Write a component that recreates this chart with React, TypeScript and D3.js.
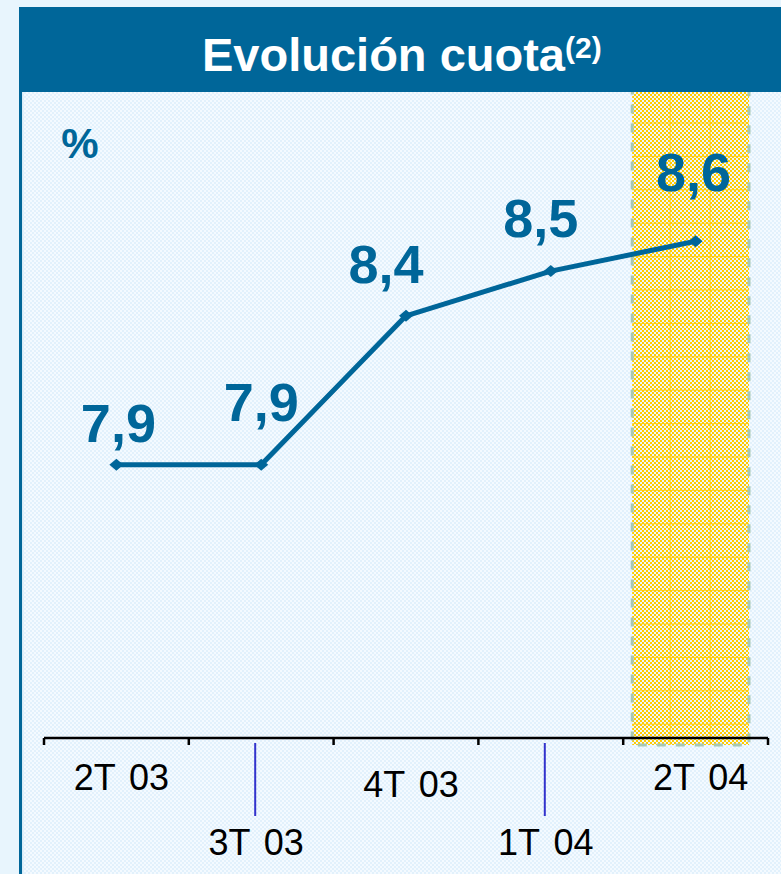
import React from "react";
import * as d3 from "d3";

const categories = ["2T 03", "3T 03", "4T 03", "1T 04", "2T 04"];
const values = [7.9, 7.9, 8.4, 8.55, 8.65];
const valueLabels = ["7,9", "7,9", "8,4", "8,5", "8,6"];
const axisLabelRow = [0, 1, 0, 1, 0];
const title = "Evolución cuota";
const titleNote = "(2)";
const unitLabel = "%";

// layout offsets for value labels (dx, dy from point)
const labelOffsets: [number, number][] = [
  [2, -23],
  [0, -44],
  [-20, -33],
  [-10, -34],
  [-2, -50],
];

const W = 781;
const H = 874;
const BLUE = "#006699";

export default function App() {
  const x = d3.scaleBand<string>().domain(categories).range([44, 768]).paddingInner(0).paddingOuter(0);
  const y = d3.scaleLinear().domain([7, 9]).range([733, 137]);
  const axisY = 738;
  const cx = (c: string) => (x(c) as number) + x.bandwidth() / 2;

  const line = d3
    .line<number>()
    .x((_, i) => cx(categories[i]))
    .y((d) => y(d));

  const boundaries = [...categories.map((c) => x(c) as number), x.range()[1]];

  const hlCat = categories[categories.length - 1];
  const hlX0 = (x(hlCat) as number) + 9;
  const hlX1 = (x(hlCat) as number) + x.bandwidth() - 19;
  const hlY0 = 90;
  const hlY1 = 745;
  const hLines = d3.range(hlY0 + 33, hlY1, 33.4);

  return (
    <svg
      width={W}
      height={H}
      style={{ position: "absolute", left: 0, top: 0 }}
      fontFamily="'Liberation Sans', Arial, sans-serif"
    >
      <defs>
        <pattern id="bgchk" width="4" height="4" patternUnits="userSpaceOnUse">
          <rect width="4" height="4" fill="#f4faff" />
          <rect width="2" height="2" fill="#e2f1fc" />
          <rect x="2" y="2" width="2" height="2" fill="#e2f1fc" />
        </pattern>
        <pattern id="ychk" width="4" height="4" patternUnits="userSpaceOnUse">
          <rect width="4" height="4" fill="#eef6fb" />
          <rect width="2" height="2" fill="#ffcc00" />
          <rect x="2" y="2" width="2" height="2" fill="#ffcc00" />
        </pattern>
      </defs>
      <rect x={0} y={0} width={W} height={H} fill="#e8f5fd" />
      <rect x={19} y={7} width={W - 19} height={H - 7} fill="url(#bgchk)" />
      <rect x={19} y={7} width={3} height={H - 7} fill={BLUE} />
      <rect x={22} y={7} width={1.5} height={H - 7} fill="#d8ecf8" />

      {/* highlight */}
      <rect x={hlX0} y={hlY0} width={hlX1 - hlX0} height={hlY1 - hlY0} fill="url(#ychk)" />
      {hLines.map((yy, i) => (
        <line key={i} x1={hlX0} x2={hlX1} y1={yy} y2={yy} stroke="#ffcc00" strokeWidth={1} opacity={0.8} />
      ))}
      {[hlX0 + 38, hlX0 + 78].map((xx, i) => (
        <line key={i} x1={xx} x2={xx} y1={hlY0} y2={hlY1} stroke="#ffcc00" strokeWidth={1} opacity={0.8} />
      ))}
      <rect
        x={hlX0}
        y={hlY0}
        width={hlX1 - hlX0}
        height={hlY1 - hlY0}
        fill="none"
        stroke="#a8c8b4"
        strokeWidth={3}
        strokeDasharray="9 10"
      />

      {/* title band */}
      <rect x={19} y={7} width={W - 19} height={85} fill={BLUE} />
      <text x={202} y={71} fill="#ffffff" fontWeight="bold" fontSize={47}>
        {title}
        <tspan fontSize={30} dy={-13}>
          {titleNote}
        </tspan>
      </text>

      <text x={80} y={158} textAnchor="middle" fill={BLUE} fontWeight="bold" fontSize={42}>
        {unitLabel}
      </text>

      {/* axis */}
      <line x1={x.range()[0]} x2={x.range()[1]} y1={axisY} y2={axisY} stroke="#000" strokeWidth={2.5} />
      {boundaries.map((b, i) => (
        <line key={i} x1={b} x2={b} y1={axisY} y2={axisY + 7} stroke="#000" strokeWidth={2.5} />
      ))}
      {categories.map((c, i) => {
        const low = axisLabelRow[i] === 1;
        return (
          <g key={c}>
            {low && (
              <line
                x1={cx(c) - 6}
                x2={cx(c) - 6}
                y1={743}
                y2={816}
                stroke="#3333cc"
                strokeWidth={2}
              />
            )}
            <text
              x={cx(c) + (low ? -5 : 5)}
              y={low ? 855 : i === 2 ? 797 : 790}
              textAnchor="middle"
              fontSize={36}
              fill="#000"
              style={{ wordSpacing: "4px" }}
            >
              {c}
            </text>
          </g>
        );
      })}

      {/* line */}
      <path d={line(values) || ""} fill="none" stroke={BLUE} strokeWidth={5} strokeLinejoin="round" />
      {values.map((v, i) => {
        const px = cx(categories[i]);
        const py = y(v);
        return (
          <path
            key={i}
            d={`M${px - 7},${py}L${px},${py - 6}L${px + 7},${py}L${px},${py + 6}Z`}
            fill={BLUE}
          />
        );
      })}
      {values.map((v, i) => (
        <text
          key={i}
          x={cx(categories[i]) + labelOffsets[i][0]}
          y={y(v) + labelOffsets[i][1]}
          textAnchor="middle"
          fill={BLUE}
          fontWeight="bold"
          fontSize={54}
        >
          {valueLabels[i]}
        </text>
      ))}
    </svg>
  );
}
